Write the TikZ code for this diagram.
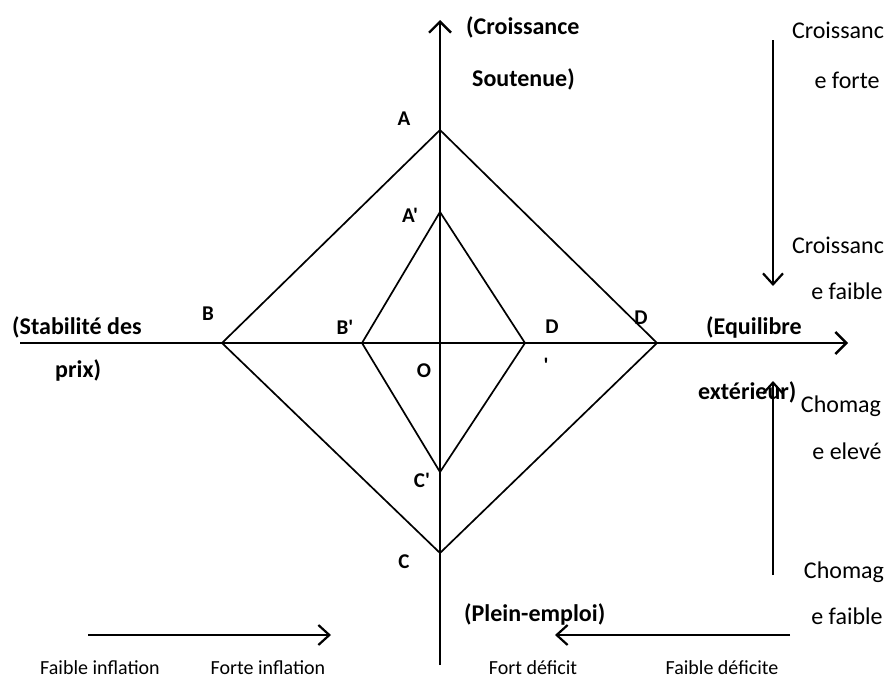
\documentclass[tikz,border=0pt]{standalone}
\usepackage{fontspec}
\setmainfont{Carlito}[Ligatures=TeXOff]
\usetikzlibrary{arrows.meta}
\begin{document}
\begin{tikzpicture}[x=1pt,y=-1pt,
  axis/.style={line width=2.6pt,-{Straight Barb[length=11pt,width=22pt,line width=2.4pt]}},
  side/.style={line width=2.2pt,-{Straight Barb[length=11pt,width=20pt,line width=2.2pt]}},
  dia/.style={line width=1.7pt,line join=miter},
  pt/.style={inner sep=0pt,font=\fontsize{21}{23}\selectfont\bfseries},
  lab/.style={inner sep=0pt,font=\fontsize{24}{26}\selectfont\bfseries},
  txt/.style={inner sep=0pt,font=\fontsize{24}{26}\selectfont},
  btxt/.style={inner sep=0pt,font=\fontsize{20}{22}\selectfont}]
\useasboundingbox (0,0) rectangle (888,688);
% points
\coordinate (O) at (440,343);
\coordinate (A) at (440,130);
\coordinate (C) at (440,553);
\coordinate (B) at (222,343);
\coordinate (D) at (657,343);
\coordinate (A2) at (440,212);
\coordinate (C2) at (440,472);
\coordinate (B2) at (362,343);
\coordinate (D2) at (525,343);
\coordinate (yb) at (440,665);
\coordinate (yt) at (440,20);
\coordinate (xl) at (20,343);
\coordinate (xr) at (848,343);
% axes
\draw[axis] (yb) -- (yt);
\draw[axis] (xl) -- (xr);
% diamonds
\draw[dia] (A) -- (D) -- (C) -- (B) -- cycle;
\draw[dia] (A2) -- (D2) -- (C2) -- (B2) -- cycle;
% point labels
\node[pt] (lA) at (404,119) {A};
\node[pt] (lA2) at (410,215) {A'};
\node[pt] (lB) at (208,314) {B};
\node[pt] (lB2) at (345,327) {B'};
\node[pt] (lD2) at (552,327) {D};
\node[pt] (lD2b) at (546,365) {'};
\node[pt] (lD) at (641,318) {D};
\node[pt] (lO) at (424,371) {O};
\node[pt] (lC2) at (422,480) {C'};
\node[pt] (lC) at (404,562) {C};
% axis labels
\node[lab,anchor=west] (t1) at (466,27) {(Croissance};
\node[lab,anchor=west] (t2) at (472,79) {Soutenue)};
\node[lab,anchor=west] (s1) at (12,327) {(Stabilité des};
\node[lab,anchor=west] (s2) at (55,370) {prix)};
\node[lab,anchor=west] (e1) at (706,327) {(Equilibre};
\node[lab,anchor=west] (e2) at (698,392) {extérieur)};
\node[lab,anchor=west] (p1) at (464,614) {(Plein-emploi)};
% right side arrows
\coordinate (r1s) at (773,40);
\coordinate (r1e) at (773,286);
\coordinate (r2s) at (773,575);
\coordinate (r2e) at (773,381);
\draw[side] (r1s) -- (r1e);
\draw[side] (r2s) -- (r2e);
\node[txt] (c1) at (838,30) {Croissanc};
\node[txt] (c2) at (847,80) {e forte};
\node[txt] (c3) at (838,245) {Croissanc};
\node[txt] (c4) at (847,291) {e faible};
\node[txt] (h1) at (841,406) {Chomag};
\node[txt] (h2) at (847,451) {e elevé};
\node[txt] (h3) at (844,572) {Chomag};
\node[txt] (h4) at (847,616) {e faible};
% bottom arrows
\coordinate (b1s) at (88,635);
\coordinate (b1e) at (331,635);
\coordinate (b2s) at (790,635);
\coordinate (b2e) at (555,635);
\draw[side] (b1s) -- (b1e);
\draw[side] (b2s) -- (b2e);
\node[btxt] (f1) at (100,668) {Faible inflation};
\node[btxt] (f2) at (268,668) {Forte inflation};
\node[btxt] (f3) at (533,668) {Fort déficit};
\node[btxt] (f4) at (722,668) {Faible déficite};
\end{tikzpicture}
\end{document}
